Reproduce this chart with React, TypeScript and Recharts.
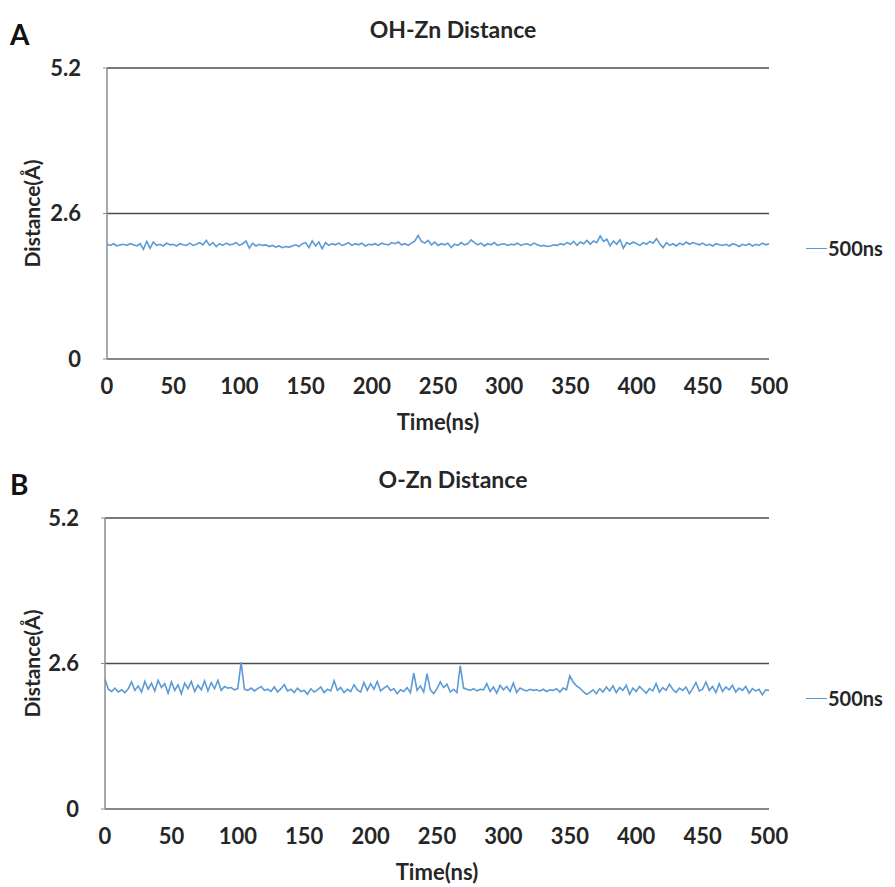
import { LineChart, Line, XAxis, YAxis, CartesianGrid, Legend } from "recharts";

// time axis: one frame every 2.5 ns, 0..500
const TIME_STEP = 2.5;
const X_TICKS = [0, 50, 100, 150, 200, 250, 300, 350, 400, 450, 500];
const Y_TICKS = [0, 2.6, 5.2];
const SERIES_NAME = "500ns";

// OH-Zn distance (Å)
const OH_ZN = [
  2.05, 2.03, 2.06, 2.02, 2.04, 2.05, 2.03, 2.06, 2.04, 2.02,
  2.06, 1.96, 2.10, 1.98, 2.09, 2.03, 2.05, 2.02, 2.07, 2.04,
  2.05, 2.02, 2.06, 2.04, 2.03, 2.07, 2.03, 2.05, 2.08, 2.04,
  2.12, 2.03, 2.08, 2.01, 2.06, 2.03, 2.07, 2.04, 2.05, 2.08,
  2.03, 2.06, 2.11, 1.98, 2.07, 2.02, 2.05, 2.03, 2.04, 2.01,
  2.03, 2.00, 2.02, 1.99, 2.01, 2.00, 2.02, 2.04, 2.01, 2.06,
  2.08, 1.99, 2.11, 2.02, 2.09, 1.97, 2.08, 2.03, 2.06, 2.04,
  2.07, 2.03, 2.05, 2.08, 2.03, 2.06, 2.04, 2.07, 2.02, 2.05,
  2.04, 2.06, 2.03, 2.07, 2.05, 2.04, 2.08, 2.06, 2.09, 2.04,
  2.06, 2.03, 2.07, 2.11, 2.21, 2.10, 2.07, 2.12, 2.04, 2.09,
  2.03, 2.06, 2.04, 2.07, 1.99, 2.05, 2.03, 2.08, 2.04, 2.06,
  2.13, 2.08, 2.04, 2.07, 2.02, 2.06, 2.04, 2.08, 2.03, 2.05,
  2.06, 2.03, 2.05, 2.04, 2.07, 2.03, 2.05, 2.06, 2.03, 2.07,
  2.04, 2.02, 2.03, 2.01, 2.02, 2.04, 2.03, 2.06, 2.04, 2.08,
  2.05, 2.10, 2.03, 2.09, 2.06, 2.12, 2.05, 2.11, 2.08, 2.20,
  2.10, 2.14, 2.02, 2.11, 2.05, 2.13, 1.98, 2.08, 2.05, 2.09,
  2.06, 2.03, 2.08, 2.05, 2.10, 2.07, 2.15, 2.06, 1.99, 2.08,
  2.03, 2.06, 2.02, 2.07, 2.04, 2.09, 2.05, 2.08, 2.06, 2.04,
  2.07, 2.03, 2.05, 2.02, 2.06, 2.04, 2.03, 2.05, 2.02, 2.06,
  2.04, 2.01, 2.05, 2.03, 2.06, 2.02, 2.05, 2.03, 2.07, 2.04, 2.06,
];

// O-Zn distance (Å)
const O_ZN = [
  2.32, 2.14, 2.10, 2.16, 2.09, 2.13, 2.08, 2.15, 2.27, 2.12,
  2.20, 2.09, 2.28, 2.14, 2.25, 2.11, 2.30, 2.17, 2.24, 2.07,
  2.27, 2.12, 2.22, 2.06, 2.25, 2.15, 2.28, 2.10, 2.21, 2.13,
  2.29, 2.11, 2.26, 2.15, 2.30, 2.12, 2.19, 2.16, 2.17, 2.13,
  2.15, 2.62, 2.14, 2.12, 2.16, 2.11, 2.15, 2.19, 2.12, 2.14,
  2.10, 2.18, 2.09, 2.15, 2.22, 2.11, 2.14, 2.08, 2.16, 2.10,
  2.12, 2.05, 2.15, 2.09, 2.13, 2.18, 2.08, 2.14, 2.11, 2.29,
  2.12, 2.17, 2.08, 2.14, 2.10, 2.22, 2.13, 2.09, 2.26, 2.12,
  2.24, 2.14, 2.28, 2.11, 2.16, 2.20, 2.12, 2.15, 2.06, 2.13,
  2.10, 2.17, 2.08, 2.43, 2.12, 2.20, 2.09, 2.42, 2.13, 2.06,
  2.15, 2.27, 2.17, 2.23, 2.09, 2.14, 2.08, 2.56, 2.16, 2.14,
  2.12, 2.15, 2.11, 2.14, 2.13, 2.24, 2.10, 2.18, 2.07, 2.21,
  2.13, 2.19, 2.10, 2.25, 2.08, 2.16, 2.13, 2.11, 2.14, 2.12,
  2.13, 2.11, 2.14, 2.10, 2.13, 2.12, 2.15, 2.09, 2.16, 2.13,
  2.38, 2.27, 2.20, 2.16, 2.10, 2.05, 2.08, 2.13, 2.06, 2.15,
  2.09, 2.18, 2.11, 2.20, 2.08, 2.17, 2.12, 2.21, 2.05, 2.16,
  2.10, 2.19, 2.13, 2.07, 2.15, 2.11, 2.24, 2.09, 2.17, 2.12,
  2.23, 2.14, 2.08, 2.16, 2.12, 2.18, 2.06, 2.15, 2.26, 2.11,
  2.14, 2.27, 2.12, 2.19, 2.08, 2.24, 2.10, 2.18, 2.13, 2.21,
  2.09, 2.16, 2.12, 2.19, 2.07, 2.15, 2.11, 2.14, 2.04, 2.13, 2.12,
];

const LINE_COLOR = "#5b9bd5";
const TEXT_COLOR = "#262626";
const FONT = "Lato, 'Open Sans', sans-serif";

const toRows = (values: number[]) =>
  values.map((d, i) => ({ t: i * TIME_STEP, d }));

interface PanelProps {
  letter: string;
  title: string;
  values: number[];
  top: number;
  axisLeft: number;
}

function LegendBox() {
  return (
    <div style={{ display: "flex", alignItems: "center" }}>
      <span style={{ width: 21, borderTop: `1.5px solid ${LINE_COLOR}` }} />
      <span style={{ fontSize: 20, fontWeight: 700, color: TEXT_COLOR, marginLeft: 1 }}>
        {SERIES_NAME}
      </span>
    </div>
  );
}

function DistancePanel({ letter, title, values, top, axisLeft }: PanelProps) {
  const data = toRows(values);
  return (
    <div style={{ position: "absolute", left: 0, top, width: 895, height: 440 }}>
      <div
        style={{
          position: "absolute",
          left: 10,
          top: 17,
          fontSize: 28,
          fontWeight: 700,
          color: "#111",
        }}
      >
        {letter}
      </div>
      <div
        style={{
          position: "absolute",
          left: 0,
          width: 906,
          top: 15,
          textAlign: "center",
          fontSize: 23,
          fontWeight: 700,
          color: TEXT_COLOR,
        }}
      >
        {title}
      </div>
      <LineChart
        width={895}
        height={440}
        data={data}
        margin={{ top: 68, right: 126, left: 0, bottom: 0 }}
      >
        <CartesianGrid vertical={false} stroke="#4d4d4d" strokeWidth={1.3} />
        <XAxis
          dataKey="t"
          type="number"
          domain={[0, 500]}
          ticks={X_TICKS}
          interval={0}
          height={81}
          axisLine={{ stroke: "#8c8c8c", strokeWidth: 1.5 }}
          tickLine={false}
          tickSize={6}
          tickMargin={13}
          tick={{ fill: TEXT_COLOR, fontSize: 22, fontWeight: 700 }}
          label={{
            value: "Time(ns)",
            position: "insideBottom",
            offset: 10,
            fill: TEXT_COLOR,
            fontSize: 22,
            fontWeight: 700,
          }}
        />
        <YAxis
          type="number"
          domain={[0, 5.2]}
          ticks={Y_TICKS}
          interval={0}
          width={axisLeft}
          axisLine={{ stroke: "#8c8c8c", strokeWidth: 1.5 }}
          tickLine={{ stroke: "#8c8c8c" }}
          tickSize={4}
          tickMargin={22}
          tick={{ fill: TEXT_COLOR, fontSize: 22, fontWeight: 700 }}
          label={{
            value: "Distance(Å)",
            angle: -90,
            position: "insideLeft",
            offset: 33,
            fill: TEXT_COLOR,
            fontSize: 21,
            fontWeight: 700,
            style: { textAnchor: "middle" },
          }}
        />
        <Legend
          layout="horizontal"
          verticalAlign="middle"
          align="center"
          content={() => <LegendBox />}
          wrapperStyle={{ position: "absolute", left: 806, top: 236, width: 90 }}
        />
        <Line
          type="linear"
          dataKey="d"
          name={SERIES_NAME}
          stroke={LINE_COLOR}
          strokeWidth={1.6}
          dot={false}
          isAnimationActive={false}
        />
      </LineChart>
    </div>
  );
}

export default function App() {
  return (
    <div
      style={{
        position: "absolute",
        left: 0,
        top: 0,
        width: 895,
        height: 887,
        background: "#fff",
        fontFamily: FONT,
      }}
    >
      <DistancePanel letter="A" title="OH-Zn Distance" values={OH_ZN} top={0} axisLeft={107} />
      <DistancePanel letter="B" title="O-Zn Distance" values={O_ZN} top={450} axisLeft={105} />
    </div>
  );
}
